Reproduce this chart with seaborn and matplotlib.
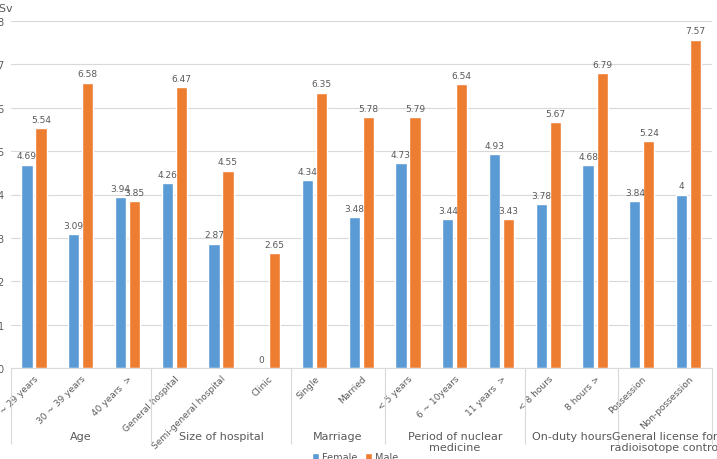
import pandas as pd
import matplotlib.pyplot as plt
import seaborn as sns

# values (mSv)
categories = ["20 ~ 29 years", "30 ~ 39 years", "40 years  >",
              "General hospital", "Semi-general hospital", "Clinic",
              "Single", "Married",
              "< 5 years", "6 ~ 10years", "11 years  >",
              "< 8 hours", "8 hours >",
              "Possession", "Non-possession"]
female = [4.69, 3.09, 3.94, 4.26, 2.87, 0, 4.34, 3.48, 4.73, 3.44, 4.93, 3.78, 4.68, 3.84, 4]
male = [5.54, 6.58, 3.85, 6.47, 4.55, 2.65, 6.35, 5.78, 5.79, 6.54, 3.43, 5.67, 6.79, 5.24, 7.57]
groups = ["Age", "Size of hospital", "Marriage", "Period of nuclear\nmedicine",
          "On-duty hours", "General license for\nradioisotope control"]
group_sizes = [3, 3, 2, 3, 2, 2]

df = pd.DataFrame({
    "category": categories * 2,
    "value": female + male,
    "sex": ["Female"] * len(female) + ["Male"] * len(male),
})

text_col = "#595959"
sns.set_style("white")
plt.rcParams["font.family"] = ["DejaVu Sans"]

fig = plt.figure(figsize=(7.17, 4.6), dpi=100)
ax = fig.add_axes([10.6 / 717, 1 - 369 / 460, (712 - 10.6) / 717, 347 / 460])

sns.barplot(data=df, x="category", y="value", hue="sex", order=categories,
            palette=["#5B9BD5", "#ED7D31"], saturation=1, width=0.6, gap=0.2,
            ax=ax, legend=True)

for c in ax.containers:
    ax.bar_label(c, fmt="{:g}", padding=3, fontsize=6.5, color=text_col)

ax.set_ylim(0, 8)
ax.set_xlim(-0.5, len(categories) - 0.5)
ax.set_yticks(range(0, 9))
ax.yaxis.grid(True, color="#D9D9D9", linewidth=0.8)
ax.set_axisbelow(True)
for s in ["top", "left", "right"]:
    ax.spines[s].set_visible(False)
ax.spines["bottom"].set_color("#D9D9D9")
ax.tick_params(axis="y", length=0, pad=5, labelsize=7, labelcolor=text_col)
ax.tick_params(axis="x", length=0, pad=4)
ax.set_xticks(range(len(categories)))
ax.set_xticklabels(categories, rotation=45, ha="right", rotation_mode="anchor",
                   fontsize=6.5, color=text_col)
ax.set_xlabel("")
ax.set_ylabel("")

# group separators and labels under the axis
start = -0.5
bounds = [start]
for n in group_sizes:
    bounds.append(bounds[-1] + n)
ax.vlines(bounds, 0, -0.22, transform=ax.get_xaxis_transform(),
          color="#D9D9D9", linewidth=0.8, clip_on=False)
for g, a, b in zip(groups, bounds[:-1], bounds[1:]):
    ax.text((a + b) / 2, -0.182, g, transform=ax.get_xaxis_transform(),
            ha="center", va="top", fontsize=8, color=text_col, linespacing=1.1)

fig.text(13 / 717, 1 - 9 / 460, "mSv", ha="right", va="center",
         fontsize=8, color=text_col)

ax.legend(loc="center", bbox_to_anchor=(0.495, 2 / 460), bbox_transform=fig.transFigure,
          ncol=2, frameon=False, fontsize=7, labelcolor=text_col,
          handlelength=0.7, handleheight=0.7, handletextpad=0.3, columnspacing=0.8)

fig.savefig("out.png", dpi=100)
